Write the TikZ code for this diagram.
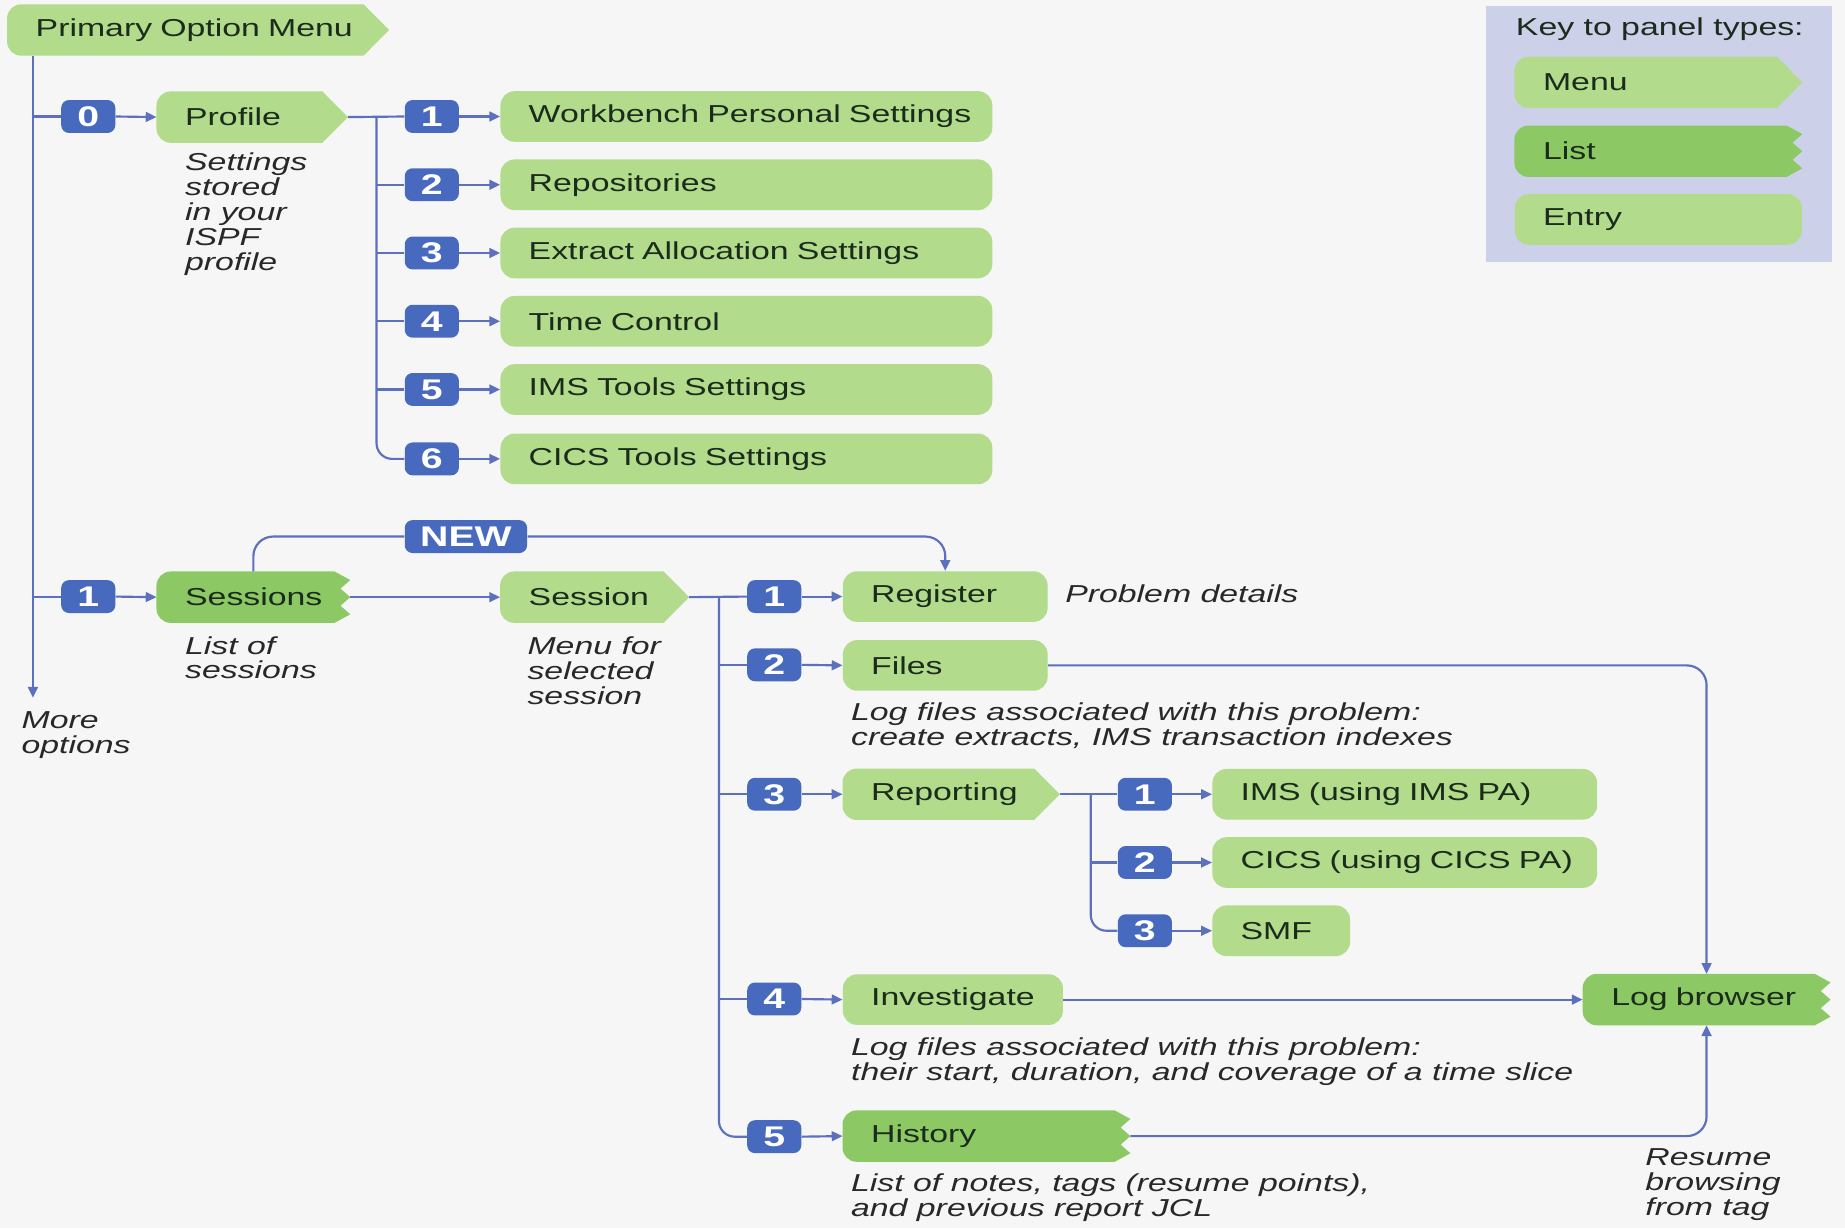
\documentclass[tikz,border=0pt]{standalone}
\usepackage{fontspec}
\setmainfont{Liberation Sans}[FakeStretch=1.38]
\usetikzlibrary{arrows.meta,calc,backgrounds}

\definecolor{pagebg}{RGB}{246,246,246}
\definecolor{keyfill}{RGB}{204,208,232}
\definecolor{lightpanel}{RGB}{178,219,139}
\definecolor{darkpanel}{RGB}{140,200,100}
\definecolor{badgeblue}{RGB}{72,106,190}
\definecolor{linkblue}{RGB}{92,112,190}
\definecolor{paneltext}{RGB}{28,44,28}
\definecolor{notetext}{RGB}{40,40,40}

\newcommand\panelfont{\fontsize{12.5}{14}\selectfont}
\newcommand\notefont{\fontsize{12.5}{12.7}\selectfont\itshape}
\newcommand\badgefont{\fontsize{14.5}{14.5}\selectfont\bfseries}

% outline of a menu panel: rounded left end, pointed right end
\newcommand\drawmenupanel[2][lightpanel]{%
  \fill[#1] ($(#2.north east)+(-13pt,0pt)$) -- (#2.east)
    -- ($(#2.south east)+(-13pt,0pt)$)
    -- ($(#2.south west)+(7.2pt,0pt)$) arc[start angle=270,end angle=180,radius=7.2pt]
    -- ($(#2.north west)+(0pt,-7.2pt)$) arc[start angle=180,end angle=90,radius=7.2pt]
    -- cycle;}

% outline of a list panel: rounded left end, toothed right end
\newcommand\drawlistpanel[2][darkpanel]{%
  \fill[#1] ($(#2.north east)+(-8pt,0pt)$)
    -- ($(#2.north east)!1/6!(#2.south east)$)
    -- ($(#2.north east)!2/6!(#2.south east)+(-5pt,0pt)$)
    -- ($(#2.north east)!3/6!(#2.south east)$)
    -- ($(#2.north east)!4/6!(#2.south east)+(-5pt,0pt)$)
    -- ($(#2.north east)!5/6!(#2.south east)$)
    -- ($(#2.south east)+(-8pt,0pt)$)
    -- ($(#2.south west)+(7.2pt,0pt)$) arc[start angle=270,end angle=180,radius=7.2pt]
    -- ($(#2.north west)+(0pt,-7.2pt)$) arc[start angle=180,end angle=90,radius=7.2pt]
    -- cycle;}

\tikzset{
  panelbase/.style={anchor=west, inner xsep=0pt, inner ysep=0pt,
    minimum height=25.8pt, text width=#1*0.6pt, align=left,
    execute at begin node={\hspace*{14.4pt}},
    text=paneltext, font=\panelfont},
  menupanel/.style={panelbase=#1},
  listpanel/.style={panelbase=#1},
  entrypanel/.style={panelbase=#1, fill=lightpanel, rounded corners=7.2pt},
  badge/.style={fill=badgeblue, rounded corners=4pt, minimum width=27.6pt,
    minimum height=16.8pt, inner sep=0pt, text=white, font=\badgefont},
  link/.style={draw=linkblue, line width=1.1pt},
  arrowlink/.style={link, -{Triangle[length=5.5pt,width=5pt]}},
  note/.style={anchor=west, inner sep=0pt, align=left, text=notetext, font=\notefont},
}

\begin{document}
\begin{tikzpicture}[x=0.6pt,y=-0.6pt]
\useasboundingbox (0,0) rectangle (1568,1044);

% branch columns
\coordinate (trunk) at (28,0);
\coordinate (pbr) at (320,0);
\coordinate (sbr) at (611,0);
\coordinate (rbr) at (927,0);
\coordinate (moretip) at (28,593);

% ---------- top level ----------
\node[menupanel=324] (pom) at (6,25.5) {Primary Option Menu};

% ---------- profile branch ----------
\node[badge] (b0) at (75,99) {0};
\node[menupanel=162] (profile) at (133,99.5) {Profile};
\node[note] (profilenote) at (157,182) {Settings\\stored\\in your\\ISPF\\profile};

\foreach \i/\yy/\txt in {1/99/Workbench Personal Settings, 2/157/Repositories,
    3/215/Extract Allocation Settings, 4/273/Time Control,
    5/331/IMS Tools Settings, 6/390/CICS Tools Settings} {
  \node[badge] (p\i) at (367,\yy) {\i};
  \node[entrypanel=418] (pe\i) at (425,\yy) {\txt};
}

% ---------- sessions branch ----------
\node[badge] (s1) at (75,507) {1};
\node[listpanel=164] (sessions) at (133,507.5) {Sessions};
\node[note] (sessionsnote) at (157,559) {List of\\sessions};
\node[menupanel=160] (session) at (425,507.5) {Session};
\node[note] (sessionnote) at (448,570) {Menu for\\selected\\session};
\node[badge, minimum width=62.4pt] (new) at (396,456) {NEW};

\node[badge] (r1) at (658,507) {1};
\node[badge] (r2) at (658,565) {2};
\node[badge] (r3) at (658,675) {3};
\node[badge] (r4) at (658,849) {4};
\node[badge] (r5) at (658,966) {5};

\node[entrypanel=174] (register) at (716,507) {Register};
\node[note] (registernote) at (905,505) {Problem details};
\node[entrypanel=174] (files) at (716,565.5) {Files};
\node[note] (filesnote) at (723,616.5) {Log files associated with this problem:\\create extracts, IMS transaction indexes};
\node[menupanel=184] (reporting) at (716,675) {Reporting};
\node[entrypanel=187] (investigate) at (716,849.5) {Investigate};
\node[note] (investnote) at (723,902.5) {Log files associated with this problem:\\their start, duration, and coverage of a time slice};
\node[listpanel=244] (history) at (716,965.5) {History};
\node[note] (historynote) at (723,1017.5) {List of notes, tags (resume points),\\and previous report JCL};

\node[badge] (q1) at (973,675) {1};
\node[badge] (q2) at (973,733) {2};
\node[badge] (q3) at (973,791) {3};
\node[entrypanel=327] (ims) at (1030,675) {IMS (using IMS PA)};
\node[entrypanel=327] (cics) at (1030,733) {CICS (using CICS PA)};
\node[entrypanel=117] (smf) at (1030,791) {SMF};

\node[listpanel=210] (logb) at (1345,849.5) {Log browser};
\node[note] (resumenote) at (1398,1007) {Resume\\browsing\\from tag};
\node[note] (morenote) at (18,625) {More\\options};

% ---------- key ----------
\node[anchor=west, inner sep=0pt, font=\panelfont, text=paneltext] (keytitle) at (1288,25) {Key to panel types:};
\node[menupanel=244] (keymenu) at (1287,70) {Menu};
\node[listpanel=244] (keylist) at (1287,128.5) {List};
\node[entrypanel=244] (keyentry) at (1287,186.5) {Entry};

% ---------- connectors ----------
\draw[arrowlink] (pom.south -| trunk) -- (moretip);

\draw[link] (b0.west -| trunk) -- (b0.west);
\draw[arrowlink] (b0.east) -- (profile.west);
\draw[link] (profile.east) -- (p1.west);
\draw[link, rounded corners=8pt] (profile.east -| pbr) -- (p6.west -| pbr) -- (p6.west);
\foreach \i in {2,...,5} \draw[link] (p\i.west -| pbr) -- (p\i.west);
\foreach \i in {1,...,6} \draw[arrowlink] (p\i.east) -- (pe\i.west);

\draw[link] (s1.west -| trunk) -- (s1.west);
\draw[arrowlink] (s1.east) -- (sessions.west);
\draw[arrowlink] (sessions.east) -- (session.west);
\draw[link, rounded corners=10pt] (sessions.north) |- (new.west);
\draw[arrowlink, rounded corners=10pt] (new.east) -| (register.north);

\draw[link] (session.east) -- (r1.west);
\draw[link, rounded corners=8pt] (session.east -| sbr) -- (r5.west -| sbr) -- (r5.west);
\foreach \i in {2,3,4} \draw[link] (r\i.west -| sbr) -- (r\i.west);
\draw[arrowlink] (r1.east) -- (register.west);
\draw[arrowlink] (r2.east) -- (files.west);
\draw[arrowlink] (r3.east) -- (reporting.west);
\draw[arrowlink] (r4.east) -- (investigate.west);
\draw[arrowlink] (r5.east) -- (history.west);

\draw[link] (reporting.east) -- (q1.west);
\draw[link, rounded corners=8pt] (reporting.east -| rbr) -- (q3.west -| rbr) -- (q3.west);
\draw[link] (q2.west -| rbr) -- (q2.west);
\draw[arrowlink] (q1.east) -- (ims.west);
\draw[arrowlink] (q2.east) -- (cics.west);
\draw[arrowlink] (q3.east) -- (smf.west);

\draw[arrowlink, rounded corners=10pt] (files.east) -| (logb.north);
\draw[arrowlink] (investigate.east) -- (logb.west);
\draw[arrowlink, rounded corners=10pt] (history.east) -| (logb.south);

% ---------- backgrounds and panel outlines ----------
\begin{scope}[on background layer]
  \fill[pagebg] (0,0) rectangle (1568,1044);
  \fill[keyfill] (1263,5) rectangle (1557,223);
  \foreach \n in {pom,profile,session,reporting,keymenu} {\drawmenupanel{\n}}
  \foreach \n in {sessions,history,logb,keylist} {\drawlistpanel{\n}}
\end{scope}
\end{tikzpicture}
\end{document}
